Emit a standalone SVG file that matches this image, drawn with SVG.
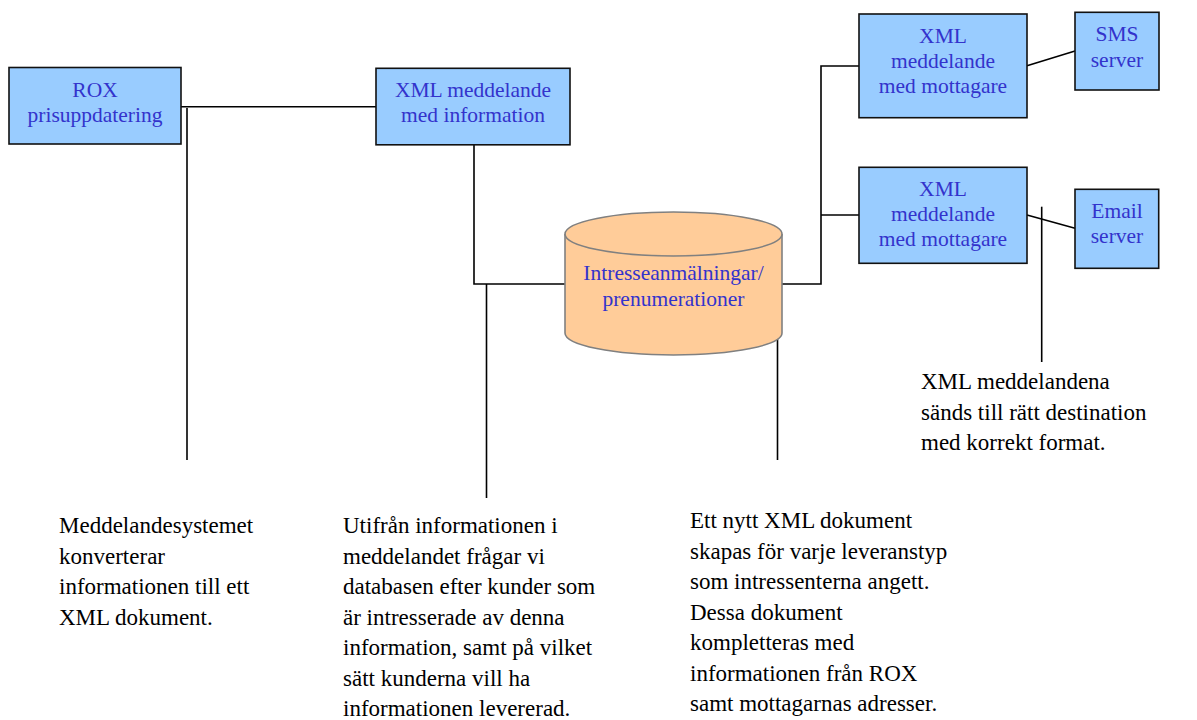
<svg xmlns="http://www.w3.org/2000/svg" width="1197" height="720" viewBox="0 0 1197 720">
<style>
.box{fill:#99CCFF;stroke:#111;stroke-width:1.6}
.cyl{fill:#FFCC99;stroke:#808080;stroke-width:1.6}
.bt{font-family:"Liberation Serif","Times New Roman",serif;font-size:21.5px;fill:#3333CC;text-anchor:middle}
.nt{font-family:"Liberation Serif","Times New Roman",serif;font-size:23px;fill:#000}
.ln{stroke:#000;stroke-width:1.6;fill:none}
</style>
<rect width="1197" height="720" fill="#fff"/>
<g id="connectors">
<line class="ln" x1="181" y1="106.7" x2="376" y2="106.7"/>
<line class="ln" x1="187" y1="108" x2="187" y2="460"/>
<polyline class="ln" points="474,145 474,284 565,284"/>
<line class="ln" x1="486.5" y1="284" x2="486.5" y2="498"/>
<polyline class="ln" points="782,284 821,284 821,66 859,66"/>
<line class="ln" x1="821" y1="215" x2="859" y2="215"/>
<line class="ln" x1="777.5" y1="284" x2="777.5" y2="460"/>
<line class="ln" x1="1027" y1="65.7" x2="1075" y2="51"/>
<line class="ln" x1="1027" y1="215" x2="1075" y2="228.3"/>
<line class="ln" x1="1041.7" y1="206.7" x2="1041.7" y2="362"/>
</g>
<g id="rox">
<rect class="box" x="9" y="67.5" width="172" height="76.5"/>
<text class="bt" x="95" y="96.7">ROX</text>
<text class="bt" x="95" y="121.7">prisuppdatering</text>
</g>
<g id="xmlinfo">
<rect class="box" x="376" y="68.3" width="194" height="76.5"/>
<text class="bt" x="473" y="96.7">XML meddelande</text>
<text class="bt" x="473" y="121.7">med information</text>
</g>
<g id="db">
<path class="cyl" d="M565,234 A108.5,22 0 0 1 782,234 L782,333 A108.5,22 0 0 1 565,333 Z"/>
<path class="cyl" d="M565,234 A108.5,22 0 0 0 782,234" fill="none"/>
<text class="bt" x="673.5" y="280">Intresseanmälningar/</text>
<text class="bt" x="673.5" y="305.5">prenumerationer</text>
</g>
<g id="xmlsms">
<rect class="box" x="859" y="14" width="168" height="103.7"/>
<text class="bt" x="943" y="43.3">XML</text>
<text class="bt" x="943" y="68.3">meddelande</text>
<text class="bt" x="943" y="93.3">med mottagare</text>
</g>
<g id="xmlemail">
<rect class="box" x="859" y="167.3" width="168" height="96"/>
<text class="bt" x="943" y="196">XML</text>
<text class="bt" x="943" y="221">meddelande</text>
<text class="bt" x="943" y="246">med mottagare</text>
</g>
<g id="sms">
<rect class="box" x="1075" y="12.3" width="84" height="77.7"/>
<text class="bt" x="1117" y="41">SMS</text>
<text class="bt" x="1117" y="66.7">server</text>
</g>
<g id="email">
<rect class="box" x="1075" y="189.3" width="83.7" height="79"/>
<text class="bt" x="1117" y="218.3">Email</text>
<text class="bt" x="1117" y="243.3">server</text>
</g>
<g id="note1">
<text class="nt" x="59" y="533">Meddelandesystemet</text>
<text class="nt" x="59" y="563.5">konverterar</text>
<text class="nt" x="59" y="594">informationen till ett</text>
<text class="nt" x="59" y="624.5">XML dokument.</text>
</g>
<g id="note2">
<text class="nt" x="343" y="533">Utifrån informationen i</text>
<text class="nt" x="343" y="563.5">meddelandet frågar vi</text>
<text class="nt" x="343" y="594">databasen efter kunder som</text>
<text class="nt" x="343" y="624.5">är intresserade av denna</text>
<text class="nt" x="343" y="655">information, samt på vilket</text>
<text class="nt" x="343" y="685.5">sätt kunderna vill ha</text>
<text class="nt" x="343" y="716">informationen levererad.</text>
</g>
<g id="note3">
<text class="nt" x="690" y="528">Ett nytt XML dokument</text>
<text class="nt" x="690" y="558.5">skapas för varje leveranstyp</text>
<text class="nt" x="690" y="589">som intressenterna angett.</text>
<text class="nt" x="690" y="619.5">Dessa dokument</text>
<text class="nt" x="690" y="650">kompletteras med</text>
<text class="nt" x="690" y="680.5">informationen från ROX</text>
<text class="nt" x="690" y="711">samt mottagarnas adresser.</text>
</g>
<g id="note4">
<text class="nt" x="921" y="389">XML meddelandena</text>
<text class="nt" x="921" y="419.5">sänds till rätt destination</text>
<text class="nt" x="921" y="450">med korrekt format.</text>
</g>
</svg>
